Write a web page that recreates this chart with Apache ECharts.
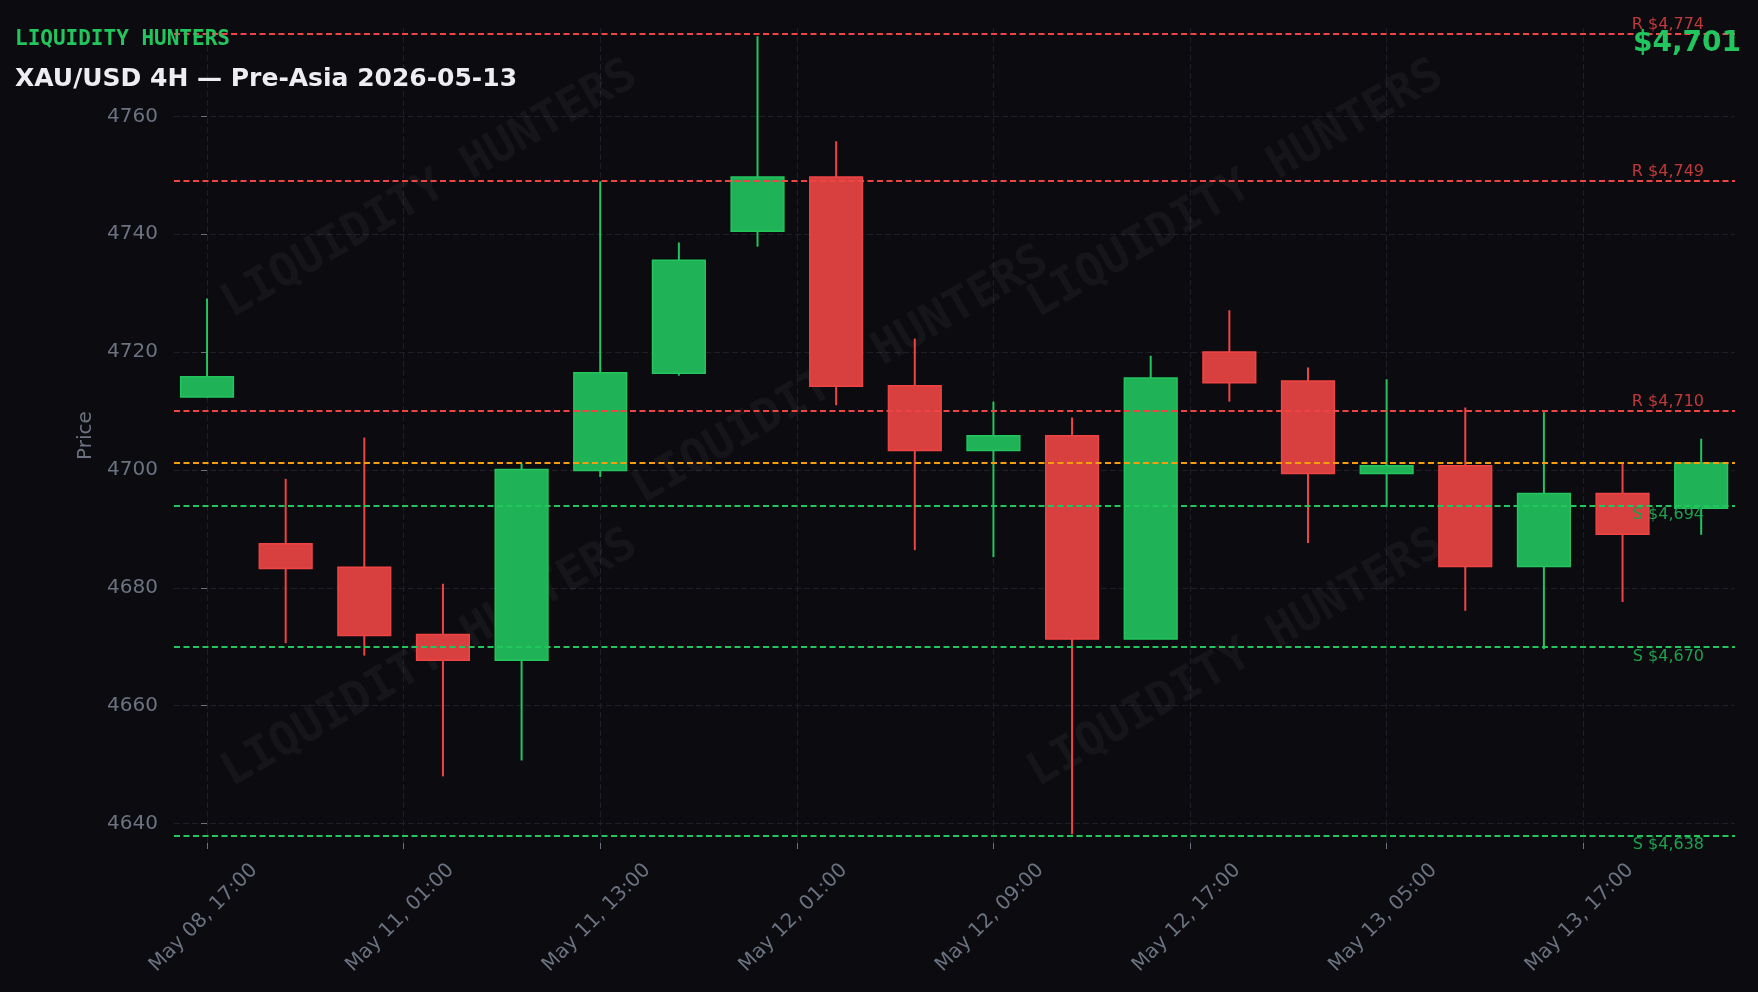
<!DOCTYPE html>
<html><head><meta charset="utf-8">
<script src="https://cdn.jsdelivr.net/npm/echarts@6/dist/echarts.min.js"></script>
<style>html,body{margin:0;padding:0;background:#0b0b10;}#c{width:1758px;height:992px;}</style>
</head><body><div id="c"></div>
<script>
// ---- data ----
const tickPositions = [0, 2.5, 5, 7.5, 10, 12.5, 15, 17.5];
const tickLabels = ["May 08, 17:00","May 11, 01:00","May 11, 13:00","May 12, 01:00","May 12, 09:00","May 12, 17:00","May 13, 05:00","May 13, 17:00"];
const opens  = [4712.4, 4687.5, 4683.5, 4672.1, 4667.7, 4699.9, 4716.4, 4740.5, 4749.7, 4714.3, 4703.3, 4705.8, 4671.3, 4720.0, 4715.1, 4699.4, 4700.7, 4683.6, 4696.0, 4693.5];
const closes = [4715.8, 4683.3, 4671.9, 4667.7, 4700.1, 4716.5, 4735.6, 4749.7, 4714.2, 4703.3, 4705.8, 4671.3, 4715.6, 4714.8, 4699.4, 4700.7, 4683.6, 4696.0, 4689.1, 4701.2];
const highs  = [4729.1, 4698.5, 4705.5, 4680.7, 4701.1, 4749.0, 4738.6, 4773.6, 4755.8, 4722.3, 4711.6, 4708.9, 4719.4, 4727.1, 4717.4, 4715.4, 4710.6, 4709.8, 4701.1, 4705.3];
const lows   = [4712.3, 4670.6, 4668.5, 4648.0, 4650.7, 4698.8, 4716.0, 4737.9, 4711.0, 4686.4, 4685.2, 4638.2, 4671.3, 4711.6, 4687.6, 4693.7, 4676.1, 4669.6, 4677.6, 4689.0];
const resistance = [4774, 4749, 4710];
const support = [4694, 4670, 4638];
const lastPrice = 4701.2;
const yTicks = [4640, 4660, 4680, 4700, 4720, 4740, 4760];

// ---- layout / style ----
const X_MIN = -0.42, X_MAX = 19.43, Y_MIN = 4636.7, Y_MAX = 4775.0;
const LABEL_SHIFT = 0.6;
const UP = '#22c55e', DOWN = '#ef4444', UP_FILL = '#20b256', DOWN_FILL = '#d8403f';
const GRAY = '#6b7280', GRIDC = '#1e1f29';
const FONT = 'DejaVu Sans', MONO = 'DejaVu Sans Mono';

const candleData = opens.map((o, i) => [i, o, closes[i], lows[i], highs[i]]);
const fmt = v => '$' + Math.round(v).toLocaleString('en-US');

function renderItem(params, api) {
  const x = api.value(0), o = api.value(1), c = api.value(2), l = api.value(3), h = api.value(4);
  const up = c >= o;
  const pO = api.coord([x, o]), pC = api.coord([x, c]), pL = api.coord([x, l]), pH = api.coord([x, h]);
  const w = api.size([0.67, 0])[0];
  const top = Math.min(pO[1], pC[1]), bot = Math.max(pO[1], pC[1]);
  return { type: 'group', children: [
    { type: 'line', shape: { x1: pH[0], y1: pH[1], x2: pL[0], y2: pL[1] }, style: { stroke: up ? UP : DOWN, lineWidth: 2 } },
    { type: 'rect', shape: { x: pO[0] - w / 2, y: top, width: w, height: Math.max(bot - top, 1) },
      style: { fill: up ? UP_FILL : DOWN_FILL, stroke: up ? UP : DOWN, lineWidth: 1.5 } }
  ]};
}

const levelLines = [];
resistance.forEach(v => levelLines.push({ yAxis: v, lineStyle: { color: DOWN }, label: { show: true, formatter: 'R ' + fmt(v), position: 'insideEndTop', color: '#c1393a', distance: [31, 1] } }));
support.forEach(v => levelLines.push({ yAxis: v, lineStyle: { color: UP }, label: { show: true, formatter: 'S ' + fmt(v), position: 'insideEndBottom', color: '#1da04e', distance: [31, 2] } }));
levelLines.push({ yAxis: lastPrice, lineStyle: { color: '#f59e0b' }, label: { show: false } });

const wmCenters = [[430, 190], [841, 376], [1236, 190], [430, 659], [1236, 659]];
const graphics = wmCenters.map(p => ({
  type: 'text', x: p[0], y: p[1], rotation: Math.PI / 6, z: 1, silent: true,
  style: { text: 'LIQUIDITY HUNTERS', fill: 'rgba(255,255,255,0.045)', font: 'bold 46px ' + MONO, align: 'center', verticalAlign: 'middle' }
}));
graphics.push(
  { type: 'text', x: 15, y: 40, z: 10, style: { text: 'LIQUIDITY HUNTERS', fill: UP, font: 'bold 21px ' + MONO, align: 'left', verticalAlign: 'middle' } },
  { type: 'text', x: 15, y: 79, z: 10, style: { text: 'XAU/USD 4H — Pre-Asia 2026-05-13', fill: '#eeeef0', font: 'bold 25px ' + FONT, align: 'left', verticalAlign: 'middle' } },
  { type: 'text', x: 1741, y: 44, z: 10, style: { text: fmt(lastPrice), fill: UP, font: 'bold 28px ' + FONT, align: 'right', verticalAlign: 'middle' } }
);

const chart = echarts.init(document.getElementById('c'), null, { renderer: 'canvas' });
chart.setOption({
  backgroundColor: '#0b0b10',
  animation: false,
  grid: { left: 174, right: 23, top: 28, bottom: 149, containLabel: false, outerBoundsMode: 'none' },
  xAxis: [
    { type: 'value', min: X_MIN, max: X_MAX, position: 'bottom',
      axisLine: { show: false },
      axisTick: { show: true, customValues: tickPositions, length: 6, lineStyle: { color: GRAY, width: 1 } },
      axisLabel: { show: false },
      splitLine: { show: true, lineStyle: { color: GRIDC, type: [6, 3], width: 1 } } },
    { type: 'value', min: X_MIN, max: X_MAX, position: 'bottom',
      axisLine: { show: false }, axisTick: { show: false }, splitLine: { show: false },
      axisLabel: { customValues: tickPositions.map(p => p + LABEL_SHIFT), rotate: 45, margin: 24, color: GRAY, fontSize: 20, fontFamily: FONT,
        formatter: v => { const i = tickPositions.findIndex(p => Math.abs(p + LABEL_SHIFT - v) < 1e-6); return i >= 0 ? tickLabels[i] : ''; } } }
  ],
  yAxis: { type: 'value', min: Y_MIN, max: Y_MAX,
    name: 'Price', nameLocation: 'middle', nameGap: 72, nameTextStyle: { color: GRAY, fontSize: 20, fontFamily: FONT },
    axisLine: { show: false },
    axisTick: { show: true, customValues: yTicks, length: 6, lineStyle: { color: GRAY, width: 1 } },
    axisLabel: { customValues: yTicks, color: GRAY, fontSize: 20, fontFamily: FONT, margin: 16, formatter: v => String(Math.round(v)) },
    splitLine: { show: true, lineStyle: { color: GRIDC, type: [6, 3], width: 1 } } },
  graphic: graphics,
  series: [{
    type: 'custom', xAxisIndex: 0, yAxisIndex: 0, renderItem: renderItem, data: candleData, z: 5,
    encode: { x: 0, y: [1, 2, 3, 4] },
    markLine: { silent: true, symbol: 'none', animation: false, z: 8,
      lineStyle: { type: [6, 3.5], width: 2 },
      label: { fontSize: 16, fontFamily: FONT },
      data: levelLines }
  }]
});
</script></body></html>
